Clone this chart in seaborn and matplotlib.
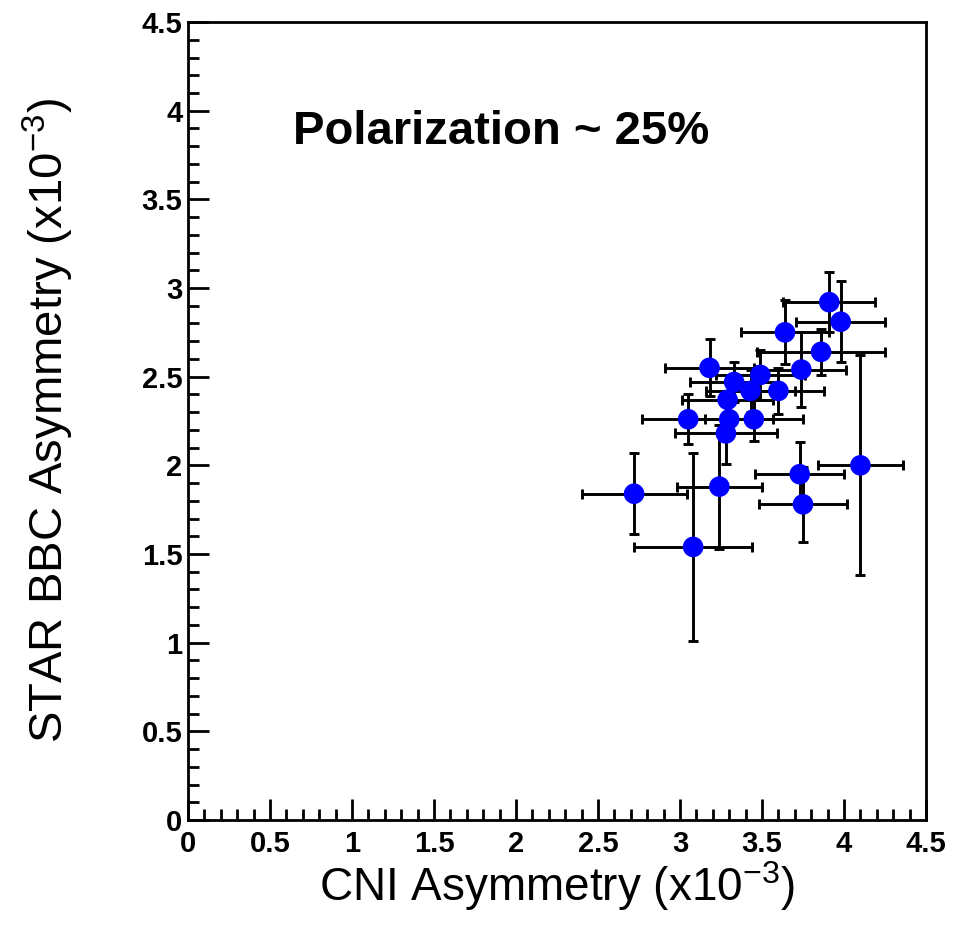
import numpy as np
import pandas as pd
import matplotlib
matplotlib.use("Agg")
import matplotlib.pyplot as plt
import seaborn as sns
from matplotlib.ticker import MultipleLocator

# CNI vs STAR BBC asymmetry (x10^-3)
cni = [3.91, 3.98, 3.64, 3.86, 3.74, 3.18, 3.49, 3.33, 3.43, 3.60, 3.29,
       3.05, 3.30, 3.45, 3.28, 2.72, 3.24, 3.08, 3.73, 3.75, 4.10]
bbc = [2.92, 2.81, 2.75, 2.64, 2.54, 2.55, 2.51, 2.47, 2.42, 2.42, 2.37,
       2.26, 2.26, 2.26, 2.18, 1.84, 1.88, 1.54, 1.95, 1.78, 2.00]
cni_err = [0.28, 0.27, 0.27, 0.39, 0.27, 0.27, 0.27, 0.27, 0.27, 0.28, 0.28,
           0.28, 0.27, 0.30, 0.31, 0.32, 0.26, 0.36, 0.27, 0.27, 0.26]
bbc_err = [0.17, 0.23, 0.18, 0.13, 0.21, 0.16, 0.14, 0.11, 0.12, 0.13, 0.10,
           0.14, 0.10, 0.12, 0.17, 0.23, 0.35, 0.53, 0.18, 0.21, 0.62]

df = pd.DataFrame({"cni": cni, "bbc": bbc, "cni_err": cni_err, "bbc_err": bbc_err})

sns.set_theme(style="ticks")
plt.rcParams["font.family"] = ["Liberation Sans", "DejaVu Sans"]
plt.rcParams["text.color"] = "black"
plt.rcParams["axes.labelcolor"] = "black"
plt.rcParams["xtick.color"] = "black"
plt.rcParams["ytick.color"] = "black"

fig = plt.figure(figsize=(9.62, 9.30), dpi=100)
ax = fig.add_axes([0.1954, 0.1183, 0.7672, 0.858])

ax.errorbar(df["cni"], df["bbc"], xerr=df["cni_err"], yerr=df["bbc_err"],
            fmt="none", ecolor="black", elinewidth=2.1, capsize=3.4, capthick=2.1, zorder=2)
sns.scatterplot(data=df, x="cni", y="bbc", ax=ax, color="#0000ff", s=220,
                edgecolor="none", linewidth=0, zorder=3)

ax.set_xlim(0, 4.5)
ax.set_ylim(0, 4.5)
ax.xaxis.set_major_locator(MultipleLocator(0.5))
ax.yaxis.set_major_locator(MultipleLocator(0.5))
ax.xaxis.set_minor_locator(MultipleLocator(0.1))
ax.yaxis.set_minor_locator(MultipleLocator(0.1))
ax.xaxis.set_major_formatter(plt.FuncFormatter(lambda v, p: f"{v:g}"))
ax.yaxis.set_major_formatter(plt.FuncFormatter(lambda v, p: f"{v:g}"))

ax.tick_params(which="both", direction="in", top=False, right=False, width=2.0, color="black")
ax.tick_params(which="major", length=15, labelsize=21)
ax.tick_params(axis="y", which="major", pad=4)
ax.tick_params(axis="x", which="major", pad=7)
ax.tick_params(which="minor", length=8)
for lab in ax.get_xticklabels() + ax.get_yticklabels():
    lab.set_fontweight("bold")
for sp in ax.spines.values():
    sp.set_visible(True)
    sp.set_linewidth(2.0)
    sp.set_color("black")

ax.set_xlabel(r"CNI Asymmetry (x10$^{\mathregular{-3}}$)", fontsize=33, labelpad=1)
ax.set_ylabel(r"STAR BBC Asymmetry (x10$^{\mathregular{-3}}$)", fontsize=34, labelpad=47)

ax.text(0.142, 0.862, "Polarization ~ 25%", transform=ax.transAxes,
        fontsize=34, fontweight="bold", ha="left", va="center")

fig.savefig("out.png", dpi=100)
